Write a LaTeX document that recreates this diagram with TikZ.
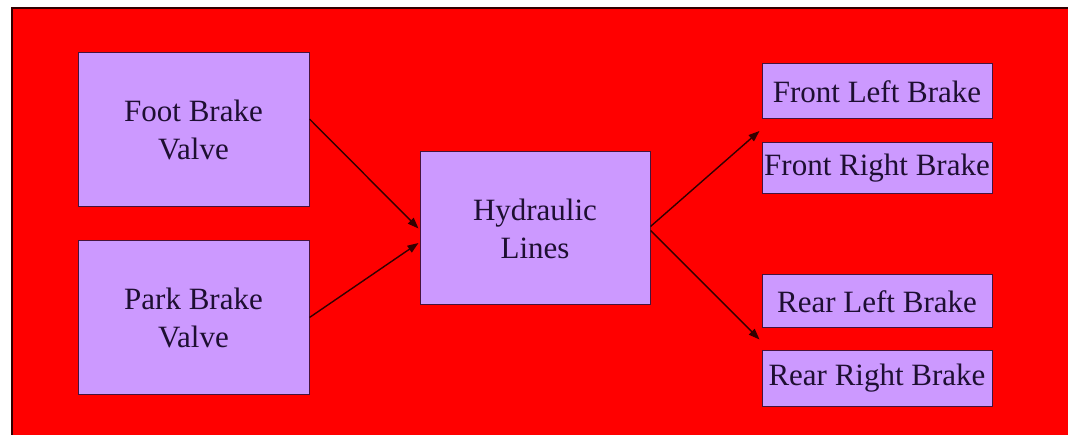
\documentclass[tikz,border=0pt]{standalone}
\usepackage{fontspec}
\setmainfont{Liberation Serif}
\usetikzlibrary{calc,arrows.meta}
\definecolor{bgred}{RGB}{255,0,0}
\definecolor{boxfill}{RGB}{204,153,255}
\definecolor{boxline}{RGB}{70,20,60}
\definecolor{txt}{RGB}{30,15,50}
\definecolor{edgedark}{RGB}{50,0,0}
\tikzset{
  bigbox/.style={draw=boxline, line width=1pt, fill=boxfill, text=txt,
    minimum width=231pt, minimum height=154pt, inner sep=0pt, align=center,
    font=\fontsize{31}{38}\selectfont},
  brakebox/.style={draw=boxline, line width=1pt, fill=boxfill, text=txt,
    minimum width=230pt, inner sep=0pt, align=center,
    font=\fontsize{31}{38}\selectfont},
  conn/.style={draw=edgedark, line width=1.4pt, -{Triangle[length=11pt,width=8pt]}}
}
\begin{document}
\begin{tikzpicture}[x=1pt,y=-1pt]
\useasboundingbox (0,0) rectangle (1068,435);
\fill[white] (0,0) rectangle (1068,435);
\fill[bgred] (12,8) rectangle (1068,435);
\draw[edgedark, line width=2pt] (12,435) -- (12,8) -- (1068,8);

\node[bigbox] (foot) at (193.5,130) {Foot Brake\\Valve};
\node[bigbox, minimum height=153pt] (park) at (193.5,317.5) {Park Brake\\Valve};
\node[bigbox, minimum width=230pt, minimum height=153pt] (hyd) at (535,228.5) {Hydraulic\\Lines};

\node[brakebox, minimum height=55pt] (fl) at (877,91.5) {Front Left Brake};
\node[brakebox, minimum height=51pt] (fr) at (877,168.5) {Front Right Brake};
\node[brakebox, minimum height=53pt] (rl) at (877,301.5) {Rear Left Brake};
\node[brakebox, minimum height=55pt] (rr) at (877,378.5) {Rear Right Brake};

\coordinate (ftip) at ($(fl.south west)!0.5!(fr.north west)+(-2,0)$);
\coordinate (rtip) at ($(rl.south west)!0.5!(rr.north west)+(-2,0)$);

\draw[conn] ([yshift=11pt]foot.east) -- ([xshift=-1pt]hyd.west);
\draw[conn] (park.east) -- ([xshift=-1pt,yshift=-14.5pt]hyd.west);
\draw[conn] ([yshift=2pt]hyd.east) -- (ftip);
\draw[conn] ([yshift=-2pt]hyd.east) -- (rtip);
\end{tikzpicture}
\end{document}
